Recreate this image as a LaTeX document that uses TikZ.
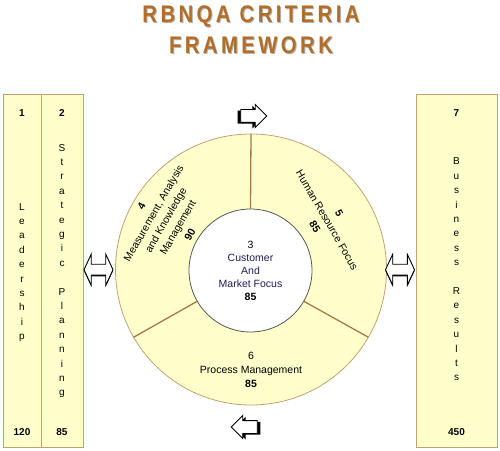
\documentclass[tikz,border=0pt]{standalone}
\usepackage{fontspec}
\setmainfont{Liberation Sans}
\newfontfamily\titlefont[FakeStretch=0.85,LetterSpace=14]{Liberation Sans}
\usepackage{tikz}
\usetikzlibrary{positioning,
                shapes.arrows,              % block arrows
                shadows}                    % black shadow under the arrows

\definecolor{paleyellow}{RGB}{255,255,204}
\definecolor{rimbrown}{RGB}{196,160,112}
\definecolor{spokebrown}{RGB}{168,120,70}
\definecolor{titlebrown}{RGB}{178,110,40}
\definecolor{hubgrey}{RGB}{85,85,85}
\definecolor{navytext}{RGB}{30,30,85}

\tikzset{
  critbox/.style={draw=rimbrown, fill=paleyellow, line width=0.8pt, minimum height=353pt, inner sep=0pt, outer sep=0pt},
  boxnum/.style={font=\fontsize{10}{12}\selectfont\bfseries, inner sep=0pt},
  letters/.style={align=center, font=\fontsize{10}{14.4}\selectfont, inner sep=0pt},
  sectortext/.style={align=center, font=\fontsize{10.5}{14}\selectfont, inner sep=0pt},
  titletext/.style={font=\titlefont\fontsize{24}{24}\selectfont\bfseries, anchor=base, inner sep=0pt},
  spoke/.style={draw=spokebrown, line width=1.3pt},
  flowarrow/.style={single arrow, draw=black, fill=white, line width=0.9pt, minimum height=26pt,
                    inner xsep=0pt, inner ysep=6pt, single arrow head extend=5pt},
  linkarrow/.style={double arrow, draw=black, fill=white, line width=0.9pt, minimum height=29pt,
                    inner xsep=0pt, inner ysep=5pt, double arrow head extend=10pt, double arrow tip angle=130,
                    general shadow={fill=black, shadow xshift=0pt, shadow yshift=-1.3pt}}
}

\begin{document}
\begin{tikzpicture}[x=1pt, y=1pt]
  \useasboundingbox (0,0) rectangle (500,450);

  % title, grey shadow first
  \node[titletext, text=black!30] (shadeone) at (252,426.2) {RBNQA CRITERIA};
  \node[titletext, text=black!30] (shadetwo) at (252,395.2) {FRAMEWORK};
  \node[titletext, text=titlebrown] (titleone) at (251,427) {RBNQA CRITERIA};
  \node[titletext, text=titlebrown] (titletwo) at (251,396) {FRAMEWORK};

  % criteria columns
  \node[critbox, minimum width=38pt] (lead) at (22,179.5) {};
  \node[critbox, minimum width=42pt] (plan) at (62,179.5) {};
  \node[critbox, minimum width=81pt] (result) at (456.5,179.5) {};

  \node[boxnum, below=15.4pt of lead.north] (leadno) {1};
  \node[letters] (leadtxt) at (22,177.5) {L\\e\\a\\d\\e\\r\\s\\h\\i\\p};
  \node[boxnum, above=11.4pt of lead.south] (leadpts) {120};

  \node[boxnum, below=15.4pt of plan.north] (planno) {2};
  \node[letters] (plantxt) at (62,179) {S\\t\\r\\a\\t\\e\\g\\i\\c\\[14.4pt]P\\l\\a\\n\\n\\i\\n\\g};
  \node[boxnum, above=11.4pt of plan.south] (planpts) {85};

  \node[boxnum, below=15.4pt of result.north] (resultno) {7};
  \node[letters] (resulttxt) at (456.5,180.5) {B\\u\\s\\i\\n\\e\\s\\s\\[14.4pt]R\\e\\s\\u\\l\\t\\s};
  \node[boxnum, above=11.4pt of result.south] (resultpts) {450};

  % the wheel
  \node[circle, draw=rimbrown, fill=paleyellow, line width=0.8pt, minimum size=271pt,
        inner sep=0pt, outer sep=0pt] (wheel) at (251,180.5) {};
  \node[circle, draw=hubgrey, fill=white, line width=0.8pt, minimum size=123pt,
        inner sep=0pt, outer sep=0pt, align=center, font=\fontsize{10.5}{13}\selectfont] (hub) at (250.5,179.5)
        {3\\\textcolor{navytext}{Customer}\\\textcolor{navytext}{And}\\\textcolor{navytext}{Market Focus}\\\textbf{85}};
  \foreach \a in {90,210,330}
    \draw[spoke] (hub.\a) -- (wheel.\a);

  \node[sectortext, rotate=60] (measure) at ([shift={(150:98.4)}]wheel.center)
        {\textbf{4}\\Measurement, Analysis\\and Knowledge\\Management\\\textbf{90}};
  \node[sectortext, rotate=-60] (people) at ([shift={(33:90.7)}]wheel.center)
        {\textbf{5}\\Human Resource Focus\\\textbf{85}};
  \node[sectortext] (process) at ([shift={(270:100.5)}]wheel.center)
        {6\\Process Management\\\textbf{85}};

  % block arrows
  \node[flowarrow, general shadow={fill=black, shadow xshift=-3pt, shadow yshift=-1.2pt}] (flowtop) at (250.5,334) {};
  \node[flowarrow, shape border rotate=180,
        general shadow={fill=black, shadow xshift=3pt, shadow yshift=-1.2pt}] (flowbottom) at (247.5,23) {};
  \node[linkarrow] (linkleft) at (98.5,180.3) {};
  \node[linkarrow] (linkright) at (400,180.3) {};
\end{tikzpicture}
\end{document}
